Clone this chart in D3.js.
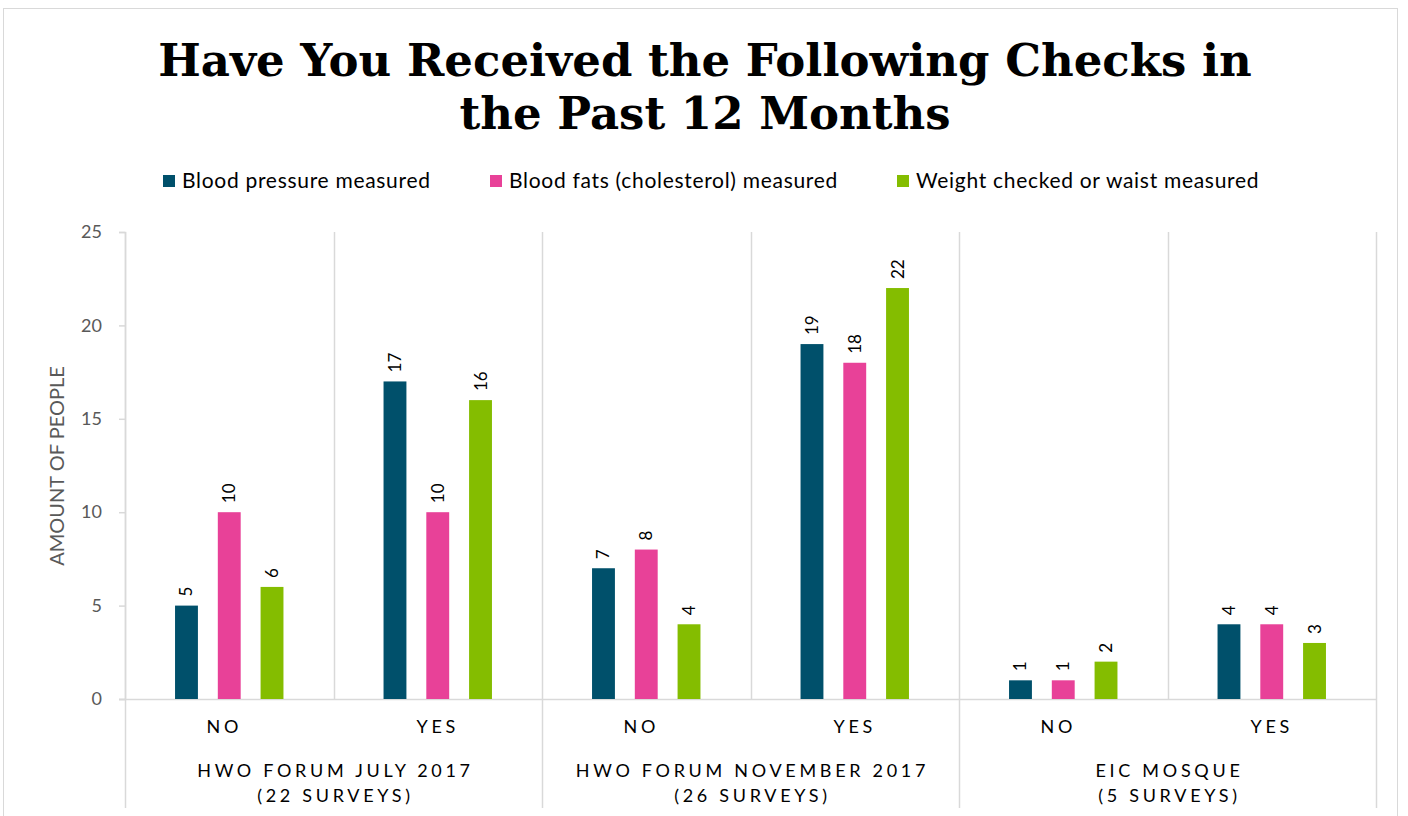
<!DOCTYPE html>
<html lang="en">
<head>
    <meta charset="UTF-8">
    <title>Have You Received the Following Checks in the Past 12 Months</title>
    <script src="https://d3js.org/d3.v7.min.js"></script>
    <style>
        body {
            margin: 0;
            background: #fff;
        }
        svg {
            display: block;
        }
    </style>
</head>
<body>
    <svg width="1408" height="816"></svg>

    <script>
        // data
        const groups = ["HWO FORUM JULY 2017", "HWO FORUM NOVEMBER 2017", "EIC MOSQUE"];
        const groupNotes = ["(22 SURVEYS)", "(26 SURVEYS)", "(5 SURVEYS)"];
        const answers = ["NO", "YES"];
        const series = ["Blood pressure measured", "Blood fats (cholesterol) measured", "Weight checked or waist measured"];
        const colors = ["#00506b", "#e84198", "#84bd00"];
        const bloodPressure = [5, 17, 7, 19, 1, 4];
        const bloodFats = [10, 10, 8, 18, 1, 4];
        const weight = [6, 16, 4, 22, 2, 3];
        const yTicks = [0, 5, 10, 15, 20, 25];

        const values = [bloodPressure, bloodFats, weight];

        const svg = d3.select("svg");
        const plotLeft = 125, plotRight = 1376, plotTop = 232, plotBottom = 699;
        const labelFont = "Lato, 'Open Sans', sans-serif";

        // chart frame
        svg.append("rect")
            .attr("x", 3.5).attr("y", 8.5)
            .attr("width", 1394).attr("height", 820)
            .attr("fill", "none")
            .attr("stroke", "#d9d9d9");

        // title
        const title = svg.append("text")
            .attr("text-anchor", "middle")
            .attr("font-family", "'DejaVu Serif', serif")
            .attr("font-weight", "bold")
            .attr("font-size", 45)
            .attr("fill", "#000");
        title.append("tspan").attr("x", 705).attr("y", 76).text("Have You Received the Following Checks in");
        title.append("tspan").attr("x", 705).attr("y", 129).text("the Past 12 Months");

        // legend
        const legendX = [163, 490, 897];
        const legend = svg.append("g");
        series.forEach((s, i) => {
            legend.append("rect")
                .attr("x", legendX[i]).attr("y", 175)
                .attr("width", 12).attr("height", 12)
                .attr("fill", colors[i]);
            legend.append("text")
                .attr("x", legendX[i] + 19).attr("y", 188)
                .attr("font-family", labelFont)
                .attr("font-size", 21)
                .attr("letter-spacing", 0.7)
                .attr("fill", "#000")
                .text(s);
        });

        // scales
        const keys = [];
        groups.forEach(g => answers.forEach(a => keys.push(g + "|" + a)));

        const x0 = d3.scaleBand().domain(keys).range([plotLeft, plotRight]).padding(0);
        const bw = x0.bandwidth();
        const x1 = d3.scaleBand().domain(series)
            .range([bw * 0.24, bw * 0.76])
            .paddingInner(0.465).paddingOuter(0);
        const y = d3.scaleLinear().domain([0, 25]).range([plotBottom, plotTop]);

        // vertical separators
        keys.forEach((k, i) => {
            const xx = Math.round(x0(k)) + 0.5;
            svg.append("line")
                .attr("x1", xx).attr("x2", xx)
                .attr("y1", plotTop).attr("y2", i % 2 === 0 ? 808 : plotBottom)
                .attr("stroke", "#d9d9d9").attr("stroke-width", 1.5);
        });
        svg.append("line")
            .attr("x1", plotRight + 0.5).attr("x2", plotRight + 0.5)
            .attr("y1", plotTop).attr("y2", 808)
            .attr("stroke", "#d9d9d9").attr("stroke-width", 1.5);

        // y axis
        const yAxis = svg.append("g")
            .attr("transform", `translate(${plotLeft},0)`)
            .call(d3.axisLeft(y).tickValues(yTicks).tickSize(6).tickPadding(17));
        yAxis.select(".domain").attr("stroke", "#d9d9d9").attr("stroke-width", 1.5);
        yAxis.selectAll(".tick line").attr("stroke", "#d9d9d9").attr("stroke-width", 1.5);
        yAxis.selectAll(".tick text")
            .attr("font-family", labelFont)
            .attr("font-size", 18)
            .attr("fill", "#595959");

        // baseline
        svg.append("line")
            .attr("x1", plotLeft - 6).attr("x2", plotRight)
            .attr("y1", plotBottom + 0.5).attr("y2", plotBottom + 0.5)
            .attr("stroke", "#d9d9d9").attr("stroke-width", 1.5);

        svg.append("text")
            .attr("transform", "translate(64,466) rotate(-90)")
            .attr("text-anchor", "middle")
            .attr("font-family", labelFont)
            .attr("font-size", 20)
            .attr("fill", "#595959")
            .text("AMOUNT OF PEOPLE");

        // bars
        const rows = keys.map((k, i) => ({ key: k, vals: series.map((s, j) => ({ s: s, c: colors[j], v: values[j][i] })) }));

        const cat = svg.selectAll("g.cat")
            .data(rows)
            .enter().append("g")
            .attr("class", "cat")
            .attr("transform", d => `translate(${x0(d.key)},0)`);

        cat.selectAll("rect")
            .data(d => d.vals)
            .enter().append("rect")
            .attr("x", d => x1(d.s))
            .attr("y", d => y(d.v))
            .attr("width", x1.bandwidth())
            .attr("height", d => plotBottom - y(d.v))
            .attr("fill", d => d.c);

        cat.selectAll("text.val")
            .data(d => d.vals)
            .enter().append("text")
            .attr("class", "val")
            .attr("transform", d => `translate(${x1(d.s) + x1.bandwidth() / 2 + 6},${y(d.v) - 9}) rotate(-90)`)
            .attr("font-family", labelFont)
            .attr("font-size", 17)
            .attr("fill", "#000")
            .text(d => d.v);

        // category labels
        cat.append("text")
            .attr("x", d => bw / 2 - (d.key.endsWith("NO") ? 5 : 0)).attr("y", 733)
            .attr("text-anchor", "middle")
            .attr("font-family", labelFont)
            .attr("font-size", 18)
            .attr("letter-spacing", 3.7)
            .attr("fill", "#000")
            .text(d => d.key.split("|")[1]);

        groups.forEach((g, i) => {
            const cx = x0(g + "|NO") + bw + 2;
            const t = svg.append("text")
                .attr("text-anchor", "middle")
                .attr("font-family", labelFont)
                .attr("font-size", 18)
                .attr("letter-spacing", 3.7)
                .attr("fill", "#000");
            t.append("tspan").attr("x", cx).attr("y", 777).text(g);
            t.append("tspan").attr("x", cx).attr("y", 802).text(groupNotes[i]);
        });
    </script>
</body>
</html>
